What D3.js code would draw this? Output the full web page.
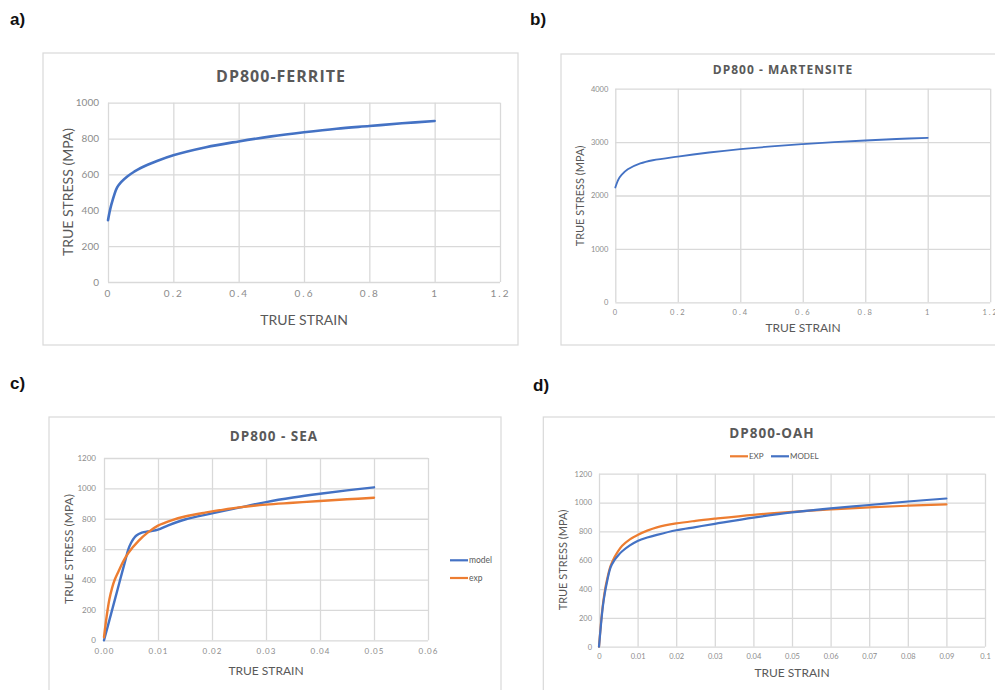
<!DOCTYPE html>
<html>
<head>
<meta charset="utf-8">
<script src="https://cdn.jsdelivr.net/npm/d3@7"></script>
<style>
  body { margin: 0; background: #fff; }
  svg { display: block; }
</style>
</head>
<body>
<div id="chart"></div>
<script>
// Data (true strain, true stress in MPa)
const ferriteStrain = [0, 0.01, 0.028, 0.04, 0.06, 0.08, 0.1, 0.15, 0.2, 0.3, 0.4, 0.5, 0.6, 0.7, 0.8, 0.9, 1];
const ferriteStress = [345, 430, 528, 557, 590, 615, 636, 675, 707, 752, 784, 812, 835, 855, 870, 885, 898];

const martStrain = [0, 0.01, 0.02, 0.04, 0.08, 0.12, 0.2, 0.3, 0.4, 0.5, 0.6, 0.7, 0.8, 0.9, 1];
const martStress = [2150, 2300, 2385, 2490, 2600, 2660, 2730, 2805, 2868, 2920, 2962, 3000, 3030, 3058, 3080];

const seaModelStrain = [0, 0.001, 0.002, 0.003, 0.004, 0.0045, 0.005, 0.0055, 0.006, 0.007, 0.008, 0.009, 0.01, 0.012, 0.015, 0.02, 0.025, 0.03, 0.035, 0.04, 0.045, 0.05];
const seaModelStress = [0, 133, 266, 400, 533, 598, 640, 670, 690, 708, 716, 720, 728, 758, 795, 835, 873, 910, 940, 965, 987, 1007];
const seaExpStrain = [0, 0.0005, 0.001, 0.0015, 0.002, 0.0027, 0.0035, 0.0045, 0.0064, 0.0082, 0.01, 0.0125, 0.015, 0.0187, 0.025, 0.03, 0.035, 0.04, 0.045, 0.05];
const seaExpStress = [20, 160, 270, 345, 400, 455, 515, 575, 655, 712, 755, 790, 815, 840, 875, 893, 905, 917, 928, 938];

const oahExpStrain = [0, 0.0005, 0.001, 0.0015, 0.002, 0.003, 0.004, 0.005, 0.006, 0.008, 0.01, 0.0125, 0.015, 0.02, 0.025, 0.03, 0.04, 0.05, 0.06, 0.07, 0.08, 0.09];
const oahExpStress = [0, 160, 290, 385, 455, 560, 620, 665, 700, 745, 775, 805, 828, 855, 873, 888, 915, 935, 952, 967, 978, 987];
const oahModelStrain = [0, 0.0005, 0.001, 0.0015, 0.002, 0.003, 0.004, 0.005, 0.006, 0.008, 0.01, 0.0125, 0.015, 0.02, 0.025, 0.03, 0.04, 0.05, 0.06, 0.07, 0.08, 0.09];
const oahModelStress = [0, 150, 280, 370, 440, 550, 600, 635, 662, 703, 733, 757, 776, 808, 830, 852, 895, 932, 960, 983, 1007, 1028];

// Tick values
const ticksA_x = [0, 0.2, 0.4, 0.6, 0.8, 1, 1.2];
const ticksA_y = [0, 200, 400, 600, 800, 1000];
const ticksB_y = [0, 1000, 2000, 3000, 4000];
const ticksC_x = [0, 0.01, 0.02, 0.03, 0.04, 0.05, 0.06];
const ticksC_y = [0, 200, 400, 600, 800, 1000, 1200];
const ticksD_x = [0, 0.01, 0.02, 0.03, 0.04, 0.05, 0.06, 0.07, 0.08, 0.09, 0.1];

const BLUE = "#4472c4", ORANGE = "#ed7d31";
const GRID = "#d9d9d9", TEXT = "#595959", TICK = "#8c8c8c";
const FONT = "Lato, 'Open Sans', sans-serif";

const svg = d3.select("#chart")
    .append("svg")
    .attr("width", 995)
    .attr("height", 690);

// Panel letters
[["a)", 10, 25], ["b)", 530, 25], ["c)", 10, 389], ["d)", 533, 391]].forEach(([t, x, y]) => {
    svg.append("text")
        .attr("x", x).attr("y", y)
        .attr("font-family", "'Liberation Sans', Arial, sans-serif")
        .attr("font-weight", "bold")
        .attr("font-size", 17)
        .attr("fill", "#111")
        .text(t);
});

function drawPanel(p) {
    // Chart area border
    svg.append("rect")
        .attr("x", p.box[0]).attr("y", p.box[1])
        .attr("width", p.box[2]).attr("height", p.box[3])
        .attr("fill", "#fff")
        .attr("stroke", GRID)
        .attr("stroke-width", 1.2);

    const x = d3.scaleLinear().domain(p.xDomain).range([p.plot.left, p.plot.right]);
    const y = d3.scaleLinear().domain(p.yDomain).range([p.plot.bottom, p.plot.top]);

    // Vertical gridlines + x tick labels
    const gx = svg.append("g")
        .attr("transform", `translate(0,${p.plot.bottom})`)
        .call(d3.axisBottom(x)
            .tickValues(p.xTicks)
            .tickSize(-(p.plot.bottom - p.plot.top))
            .tickPadding(p.xPad)
            .tickFormat(p.xFmt));
    gx.select(".domain").remove();
    gx.selectAll(".tick line").attr("stroke", GRID).attr("stroke-width", 1.3);
    gx.selectAll(".tick text")
        .attr("fill", TICK)
        .attr("font-family", FONT)
        .attr("font-size", p.tickSize)
        .attr("letter-spacing", p.xSpacing);

    // Horizontal gridlines + y tick labels
    const gy = svg.append("g")
        .attr("transform", `translate(${p.plot.left},0)`)
        .call(d3.axisLeft(y)
            .tickValues(p.yTicks)
            .tickSize(-(p.plot.right - p.plot.left))
            .tickPadding(p.yPad)
            .tickFormat(d3.format("d")));
    gy.select(".domain").remove();
    gy.selectAll(".tick line").attr("stroke", GRID).attr("stroke-width", 1.3);
    gy.selectAll(".tick text")
        .attr("fill", TICK)
        .attr("font-family", FONT)
        .attr("font-size", p.tickSize);

    // Curves
    p.series.forEach(s => {
        const pts = s.strain.map((e, i) => [e, s.stress[i]]);
        svg.append("path")
            .datum(pts)
            .attr("fill", "none")
            .attr("stroke", s.color)
            .attr("stroke-width", p.lineWidth)
            .attr("stroke-linecap", "round")
            .attr("stroke-linejoin", "round")
            .attr("d", d3.line()
                .x(d => x(d[0]))
                .y(d => y(d[1]))
                .curve(d3.curveCatmullRom.alpha(0.5)));
    });

    // Title
    svg.append("text")
        .attr("x", p.title.x).attr("y", p.title.y)
        .attr("text-anchor", "middle")
        .attr("font-family", "'Open Sans', sans-serif")
        .attr("font-weight", "bold")
        .attr("font-size", p.title.size)
        .attr("letter-spacing", p.title.spacing)
        .attr("fill", TEXT)
        .text(p.title.text);

    // Axis titles
    svg.append("text")
        .attr("x", p.xTitle.x).attr("y", p.xTitle.y)
        .attr("text-anchor", "middle")
        .attr("font-family", FONT)
        .attr("font-size", p.xTitle.size)
        .attr("fill", TEXT)
        .text("TRUE STRAIN");

    svg.append("text")
        .attr("transform", `translate(${p.yTitle.x},${p.yTitle.y}) rotate(-90)`)
        .attr("text-anchor", "middle")
        .attr("font-family", FONT)
        .attr("font-size", p.yTitle.size)
        .attr("fill", TEXT)
        .text("TRUE STRESS (MPA)");

    // Legend
    if (p.legend) {
        p.legend.forEach(l => {
            svg.append("line")
                .attr("x1", l.x).attr("x2", l.x + 18)
                .attr("y1", l.y).attr("y2", l.y)
                .attr("stroke", l.color)
                .attr("stroke-width", 2.2);
            svg.append("text")
                .attr("x", l.x + 19).attr("y", l.y + 3)
                .attr("font-family", FONT)
                .attr("font-size", l.size)
                .attr("fill", TEXT)
                .text(l.text);
        });
    }
}

// a) ferrite
drawPanel({
    box: [43, 53, 475, 292],
    plot: { left: 108, right: 500, top: 102.7, bottom: 282 },
    xDomain: [0, 1.2], yDomain: [0, 1000],
    xTicks: ticksA_x, yTicks: ticksA_y,
    xFmt: d3.format(""), xPad: 8, yPad: 9, xSpacing: 2, tickSize: 10,
    lineWidth: 2.6,
    series: [{ strain: ferriteStrain, stress: ferriteStress, color: BLUE }],
    title: { text: "DP800-FERRITE", x: 281, y: 82, size: 16, spacing: 1 },
    xTitle: { x: 304, y: 325, size: 14 },
    yTitle: { x: 73, y: 192, size: 14 }
});

// b) martensite
drawPanel({
    box: [561, 54, 450, 291],
    plot: { left: 615.3, right: 990.2, top: 88.7, bottom: 302.3 },
    xDomain: [0, 1.2], yDomain: [0, 4000],
    xTicks: ticksA_x, yTicks: ticksB_y,
    xFmt: d3.format(""), xPad: 7, yPad: 7, xSpacing: 2, tickSize: 7.5,
    lineWidth: 1.8,
    series: [{ strain: martStrain, stress: martStress, color: BLUE }],
    title: { text: "DP800 - MARTENSITE", x: 783, y: 74, size: 12, spacing: 1 },
    xTitle: { x: 803, y: 332, size: 12 },
    yTitle: { x: 584, y: 196, size: 11 }
});

// c) SEA
drawPanel({
    box: [49, 417, 452, 290],
    plot: { left: 104, right: 428, top: 458, bottom: 640.3 },
    xDomain: [0, 0.06], yDomain: [0, 1200],
    xTicks: ticksC_x, yTicks: ticksC_y,
    xFmt: d3.format(".2f"), xPad: 8, yPad: 8, xSpacing: 1, tickSize: 8,
    lineWidth: 2.4,
    series: [
        { strain: seaModelStrain, stress: seaModelStress, color: BLUE },
        { strain: seaExpStrain, stress: seaExpStress, color: ORANGE }
    ],
    title: { text: "DP800 - SEA", x: 274, y: 441, size: 13.5, spacing: 1 },
    xTitle: { x: 266, y: 675, size: 12 },
    yTitle: { x: 73, y: 549, size: 12 },
    legend: [
        { x: 450, y: 560.3, color: BLUE, text: "model", size: 8.5 },
        { x: 450, y: 578, color: ORANGE, text: "exp", size: 8.5 }
    ]
});

// d) OAH
drawPanel({
    box: [543.3, 417, 470, 290],
    plot: { left: 599, right: 985, top: 473.7, bottom: 646.7 },
    xDomain: [0, 0.1], yDomain: [0, 1200],
    xTicks: ticksD_x, yTicks: ticksC_y,
    xFmt: d3.format(""), xPad: 7, yPad: 7, xSpacing: 0, tickSize: 7.5,
    lineWidth: 2.2,
    series: [
        { strain: oahExpStrain, stress: oahExpStress, color: ORANGE },
        { strain: oahModelStrain, stress: oahModelStress, color: BLUE }
    ],
    title: { text: "DP800-OAH", x: 772, y: 438, size: 13.5, spacing: 1 },
    xTitle: { x: 792, y: 677, size: 12 },
    yTitle: { x: 567, y: 560, size: 11 },
    legend: [
        { x: 730, y: 456.3, color: ORANGE, text: "EXP", size: 8 },
        { x: 771, y: 456.3, color: BLUE, text: "MODEL", size: 8 }
    ]
});
</script>
</body>
</html>
